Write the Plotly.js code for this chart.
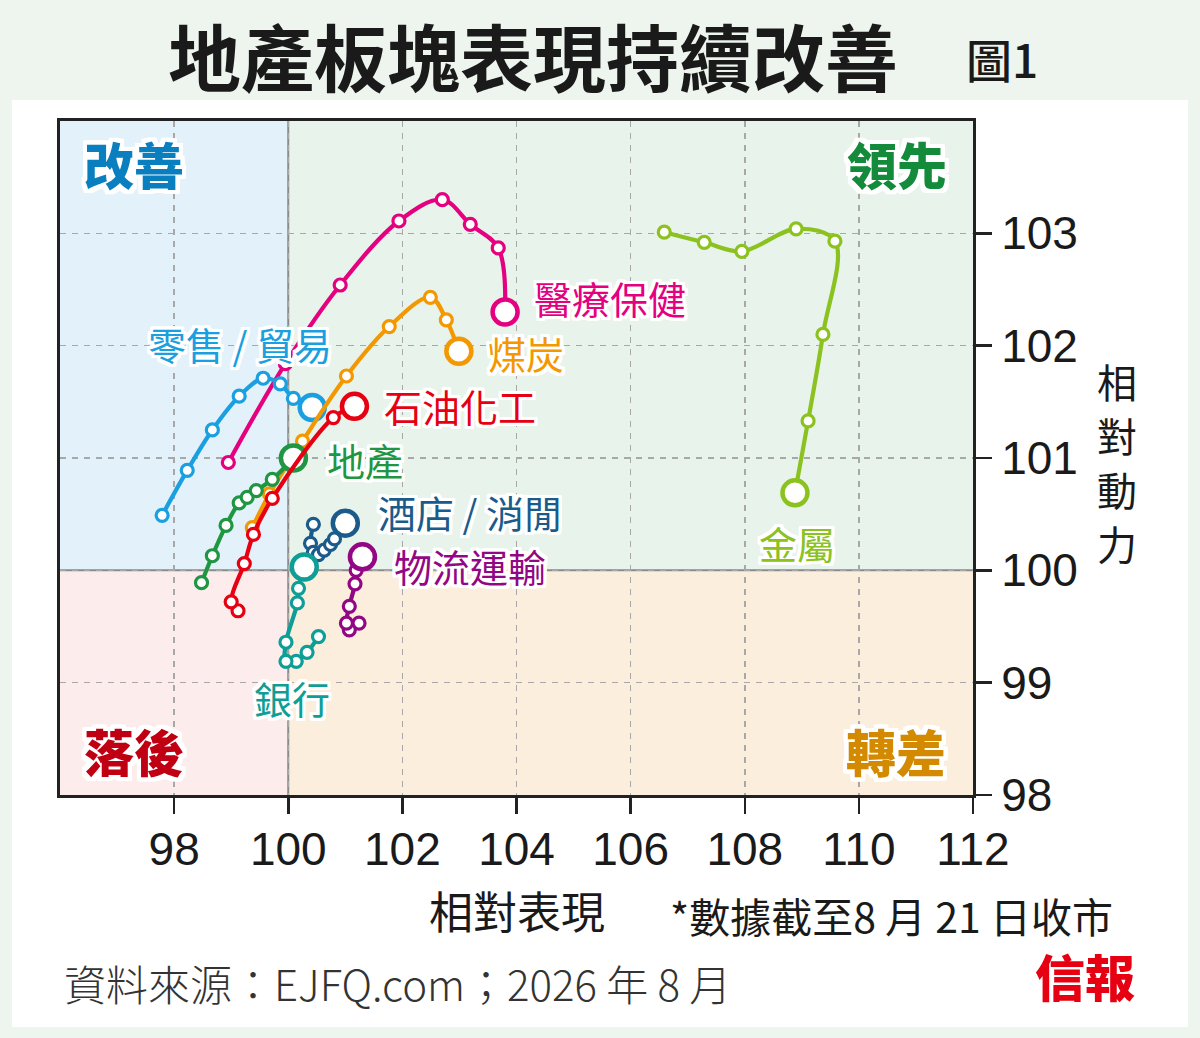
<!DOCTYPE html>
<html>
<head>
<meta charset="utf-8">
<script src="https://cdn.plot.ly/plotly-3.0.1.min.js"></script>
<style>
  html, body { margin:0; padding:0; background:#edf5ee; }
  #wrap { position:relative; width:1200px; height:1038px; background:#edf5ee; overflow:hidden; }
  #panel { position:absolute; left:12px; top:100px; width:1176px; height:927px; background:#ffffff; }
  #chart { position:absolute; left:0; top:0; width:1200px; height:1038px; }
</style>
</head>
<body>
<div id="wrap">
  <div id="panel"></div>
  <div id="chart"></div>
</div>
<script>
// ---- Data (relative performance x, relative momentum y), oldest -> latest ----
const medicalX = [98.95, 99.95, 100.91, 101.94, 102.70, 103.19, 103.68, 103.80];
const medicalY = [100.96, 101.84, 102.54, 103.11, 103.30, 103.08, 102.87, 102.30];

const retailX = [97.79, 98.23, 98.67, 99.14, 99.56, 99.86, 100.09, 100.42];
const retailY = [100.49, 100.89, 101.25, 101.55, 101.71, 101.66, 101.53, 101.45];

const coalX = [99.37, 99.67, 100.25, 101.02, 101.77, 102.49, 102.77, 102.99];
const coalY = [100.38, 100.68, 101.15, 101.73, 102.17, 102.43, 102.23, 101.95];

const petroX = [99.12, 99.00, 99.23, 99.39, 99.72, 100.79, 101.16];
const petroY = [99.64, 99.72, 100.06, 100.32, 100.64, 101.36, 101.46];

const propertyX = [98.48, 98.67, 98.91, 99.14, 99.28, 99.44, 99.72, 100.09];
const propertyY = [99.89, 100.13, 100.40, 100.60, 100.65, 100.71, 100.81, 101.00];

const hotelX = [100.44, 100.39, 100.44, 100.53, 100.63, 100.74, 100.81, 101.00];
const hotelY = [100.41, 100.24, 100.16, 100.14, 100.18, 100.23, 100.28, 100.42];

const bankX = [100.53, 100.33, 100.14, 99.96, 99.96, 100.16, 100.18, 100.28];
const bankY = [99.41, 99.27, 99.19, 99.19, 99.36, 99.71, 99.84, 100.03];

const logisticsX = [101.24, 101.07, 101.02, 101.07, 101.17, 101.19, 101.30];
const logisticsY = [99.53, 99.47, 99.53, 99.68, 99.88, 100.00, 100.12];

const metalX = [106.59, 107.29, 107.95, 108.90, 109.58, 109.37, 109.11, 108.88];
const metalY = [103.01, 102.92, 102.84, 103.04, 102.93, 102.10, 101.33, 100.69];

const xTicks = [98, 100, 102, 104, 106, 108, 110, 112];
const yTicks = [98, 99, 100, 101, 102, 103];

// ---- Series definitions ----
const series = [
  {name:'醫療保健', x:medicalX, y:medicalY, color:'#e4007f', lx:104.27, ly:102.43},
  {name:'零售 / 貿易', x:retailX, y:retailY, color:'#1a9fe0', lx:97.51, ly:102.02},
  {name:'煤炭', x:coalX, y:coalY, color:'#f39800', lx:103.47, ly:101.94},
  {name:'地產', x:propertyX, y:propertyY, color:'#1f9642', lx:100.65, ly:100.99},
  {name:'石油化工', x:petroX, y:petroY, color:'#e60012', lx:101.65, ly:101.47},
  {name:'酒店 / 消閒', x:hotelX, y:hotelY, color:'#1b5b8b', lx:101.54, ly:100.52},
  {name:'銀行', x:bankX, y:bankY, color:'#0f9e96', lx:99.37, ly:98.87},
  {name:'物流運輸', x:logisticsX, y:logisticsY, color:'#920783', lx:101.82, ly:100.04},
  {name:'金屬', x:metalX, y:metalY, color:'#8cc21f', lx:108.22, ly:100.25}
];

const halo = (w) => {
  const s = [];
  for (let dx = -w; dx <= w; dx++) for (let dy = -w; dy <= w; dy++) {
    if (dx === 0 && dy === 0) continue;
    s.push(dx + 'px ' + dy + 'px 0 #ffffff');
  }
  return s.join(', ');
};

const CJK = '"Noto Sans CJK TC", "Noto Sans CJK SC", sans-serif';

const traces = [];
series.forEach(s => {
  const n = s.x.length;
  const sizes = s.x.map((v, i) => i === n - 1 ? 25 : 12);
  const widths = s.x.map((v, i) => i === n - 1 ? 4.5 : 3.2);
  traces.push({
    type:'scatter', mode:'lines+markers', x:s.x, y:s.y, name:s.name,
    line:{color:s.color, width:4.2, shape:'spline', smoothing:1},
    marker:{size:sizes, color:'#ffffff', opacity:1, line:{color:s.color, width:widths}},
    opacity:1, hoverinfo:'skip', showlegend:false, cliponaxis:false
  });
});

const annotations = series.map(s => ({
  x:s.lx, y:s.ly, xref:'x', yref:'y', text:s.name, showarrow:false,
  xanchor:'left', yanchor:'middle',
  font:{family:CJK, size:38, color:s.color, shadow:halo(3)}
}));

// Quadrant labels
[
  {t:'改善', x:97.30, y:103.63, c:'#0a7fc0'},
  {t:'領先', x:110.67, y:103.63, c:'#138b3b'},
  {t:'落後', x:97.30, y:98.40, c:'#c00012'},
  {t:'轉差', x:110.65, y:98.40, c:'#d38a00'}
].forEach(q => annotations.push({
  x:q.x, y:q.y, xref:'x', yref:'y', text:q.t, showarrow:false,
  xanchor:'center', yanchor:'middle',
  font:{family:CJK, size:50, weight:900, color:q.c, shadow:halo(4)}
}));

// Paper texts: plot area px 60..973 (x), 121..795 (y)
const px = v => (v - 60) / 913;
const py = v => (795 - v) / 674;
annotations.push(
  {xref:'paper', yref:'paper', x:px(533), y:py(54), text:'地產板塊表現持續改善', showarrow:false,
   xanchor:'center', yanchor:'middle', font:{family:CJK, size:73, weight:700, color:'#1a1a1a'}},
  {xref:'paper', yref:'paper', x:px(1002), y:py(58), text:'圖1', showarrow:false,
   xanchor:'center', yanchor:'middle', font:{family:CJK, size:46, weight:500, color:'#1a1a1a'}},
  {xref:'paper', yref:'paper', x:px(517), y:py(910), text:'相對表現', showarrow:false,
   xanchor:'center', yanchor:'middle', font:{family:CJK, size:44, color:'#1a1a1a'}},
  {xref:'paper', yref:'paper', x:px(668), y:py(915), text:'*數據截至8 月 21 日收市', showarrow:false,
   xanchor:'left', yanchor:'middle', font:{family:CJK, size:41, color:'#1a1a1a'}},
  {xref:'paper', yref:'paper', x:px(62), y:py(982), text:'資料來源：EJFQ.com；2026 年 8 月', showarrow:false,
   xanchor:'left', yanchor:'middle', font:{family:CJK, size:42, weight:300, color:'#333333'}},
  {xref:'paper', yref:'paper', x:px(1085), y:py(975), text:'信報', showarrow:false,
   xanchor:'center', yanchor:'middle', font:{family:CJK, size:50, weight:900, color:'#e60012'}}
);
// Vertical y-axis title, one character per row
['相', '對', '動', '力'].forEach((ch, i) => annotations.push({
  xref:'paper', yref:'paper', x:px(1117), y:py(381 + i * 54), text:ch, showarrow:false,
  xanchor:'center', yanchor:'middle', borderpad:0,
  font:{family:CJK, size:40, color:'#1a1a1a'}
}));

const shapes = [
  {type:'rect', xref:'x', yref:'y', x0:96, x1:100, y0:100, y1:104, fillcolor:'#e3f1fa', line:{width:0}, layer:'below'},
  {type:'rect', xref:'x', yref:'y', x0:100, x1:112, y0:100, y1:104, fillcolor:'#e8f3eb', line:{width:0}, layer:'below'},
  {type:'rect', xref:'x', yref:'y', x0:96, x1:100, y0:98, y1:100, fillcolor:'#fdecec', line:{width:0}, layer:'below'},
  {type:'rect', xref:'x', yref:'y', x0:100, x1:112, y0:98, y1:100, fillcolor:'#fbeedc', line:{width:0}, layer:'below'},
  {type:'line', xref:'x', yref:'y', x0:100, x1:100, y0:98, y1:104, line:{color:'#8a8a8a', width:2}, layer:'below'},
  {type:'line', xref:'x', yref:'y', x0:96, x1:112, y0:100, y1:100, line:{color:'#8a8a8a', width:2}, layer:'below'}
];

const layout = {
  width:1200, height:1038,
  margin:{l:60, r:227, t:121, b:243},
  paper_bgcolor:'rgba(0,0,0,0)', plot_bgcolor:'rgba(0,0,0,0)',
  showlegend:false,
  xaxis:{
    range:[96,112], tickvals:xTicks, ticktext:xTicks.map(String),
    ticks:'outside', ticklen:16, tickwidth:2.5, tickcolor:'#222',
    showline:true, linecolor:'#222', linewidth:3, mirror:true,
    showgrid:true, gridcolor:'#a8a8a8', gridwidth:1.5, griddash:'6px,6px',
    zeroline:false, fixedrange:true, ticklabelstandoff:-4,
    tickfont:{family:'"Liberation Sans", Arial, sans-serif', size:46, color:'#1a1a1a'}
  },
  yaxis:{
    range:[98,104], tickvals:yTicks, ticktext:yTicks.map(String), side:'right',
    ticks:'outside', ticklen:16, tickwidth:2.5, tickcolor:'#222',
    showline:true, linecolor:'#222', linewidth:3, mirror:true,
    showgrid:true, gridcolor:'#a8a8a8', gridwidth:1.5, griddash:'6px,6px',
    zeroline:false, fixedrange:true,
    tickfont:{family:'"Liberation Sans", Arial, sans-serif', size:46, color:'#1a1a1a'}
  },
  shapes:shapes,
  annotations:annotations
};

Plotly.newPlot('chart', traces, layout, {staticPlot:true, displayModeBar:false});
</script>
</body>
</html>
